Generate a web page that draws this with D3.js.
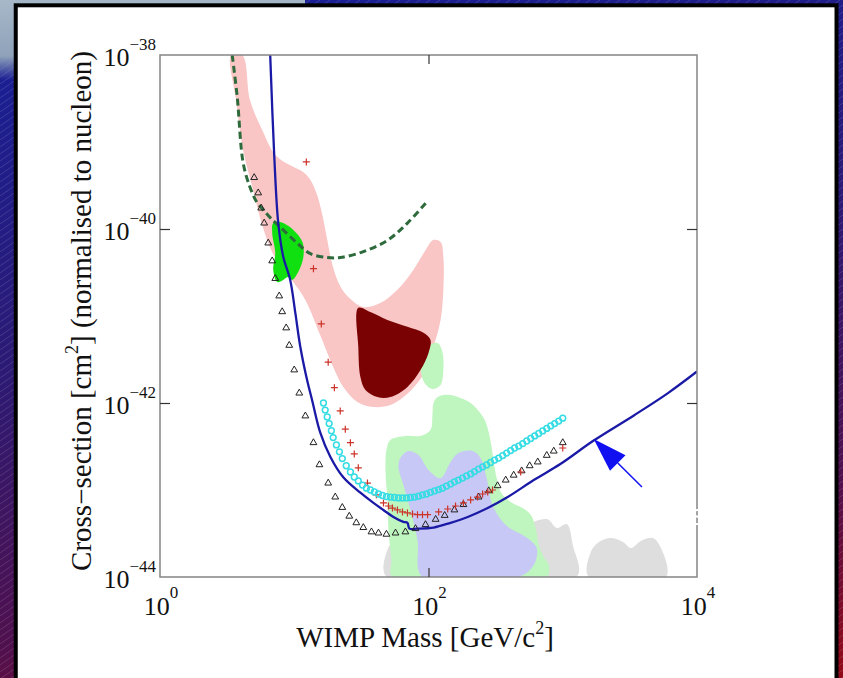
<!DOCTYPE html>
<html>
<head>
<meta charset="utf-8">
<script src="https://cdn.jsdelivr.net/npm/d3@7"></script>
<style>
  body { margin: 0; background: #000; }
  svg { display: block; }
</style>
</head>
<body>
<div id="chart"></div>
<script>
const [svgW, svgH] = [843, 678];
const [plotL, plotR, plotT, plotB] = [160, 697, 55, 577];
const serif = '"Liberation Serif", "DejaVu Serif", serif';

// axes
const xTicks = [1, 100, 10000];
const xTickExp = ["0", "2", "4"];
const yTicks = [1e-44, 1e-42, 1e-40, 1e-38];
const yTickExp = ["\u221244", "\u221242", "\u221240", "\u221238"];

// [mass GeV, cross-section cm2]
const limitLine = [
  [6.62, 1e-38], [7.1, 6.8e-40], [7.6, 1.17e-40], [8.28, 4.8e-41], [9.33, 2.6e-41],
  [10.2, 1.07e-41], [11.1, 4.4e-42], [12.5, 1.8e-42], [13.6, 1.07e-42], [15.6, 4.6e-43],
  [18.6, 2.4e-43], [23.2, 1.4e-43], [31.1, 9.3e-44], [38.9, 7.1e-44], [46.1, 5.9e-44],
  [54.8, 4.9e-44], [65.0, 4.3e-44], [69.7, 4.2e-44], [72.1, 3.6e-44], [82.8, 3.6e-44],
  [109, 3.7e-44], [146, 4.2e-44], [196, 4.9e-44], [276, 6.2e-44], [389, 8.3e-44],
  [608, 1.3e-43], [966, 2.0e-43], [1700, 3.7e-43], [3386, 7.2e-43], [6080, 1.3e-42],
  [10000, 2.3e-42]
];

const dashedLine = [
  [3.45, 1e-38], [3.76, 3.3e-39], [4.16, 5.8e-40], [4.69, 3.0e-40], [5.3, 2.0e-40],
  [5.87, 1.66e-40], [6.62, 1.35e-40], [7.87, 1.05e-40], [10.5, 6.9e-41], [13.2, 5.2e-41],
  [17.6, 4.7e-41], [22.0, 4.7e-41], [32.7, 5.5e-41], [49.4, 7.4e-41], [69.7, 1.17e-40],
  [98.4, 2.1e-40]
];

const triangles = [
  [5.03, 3.9e-40], [5.39, 2.6e-40], [5.67, 1.74e-40], [5.97, 1.17e-40], [6.4, 6.9e-41],
  [6.85, 4.3e-41], [7.22, 2.7e-41], [7.73, 1.7e-41], [8.13, 1.12e-41], [8.71, 7.3e-42],
  [9.18, 4.6e-42], [10.0, 2.4e-42], [10.9, 1.3e-42], [12.1, 7.1e-43], [13.9, 3.5e-43],
  [15.4, 1.95e-43], [17.9, 1.2e-43], [20.2, 8.3e-44], [22.8, 6.3e-44], [25.7, 5.0e-44],
  [29.0, 4.2e-44], [32.7, 3.7e-44], [37.6, 3.3e-44], [42.4, 3.2e-44], [48.6, 3.1e-44],
  [56.8, 3.2e-44], [67.3, 3.3e-44], [80, 3.6e-44], [95, 4.0e-44], [113, 4.6e-44],
  [132, 5.1e-44], [156, 5.9e-44], [182, 6.8e-44], [236, 8.3e-44], [281, 9.8e-44],
  [327, 1.12e-43], [376, 1.3e-43], [431, 1.48e-43], [494, 1.66e-43], [567, 1.9e-43],
  [651, 2.1e-43], [760, 2.5e-43], [857, 2.8e-43], [1000, 3.5e-43]
];

const crosses = [
  [12.3, 5.9e-40], [13.9, 3.5e-41], [15.9, 8.1e-42], [17.9, 2.95e-42], [19.9, 1.5e-42],
  [22.0, 8.1e-43], [24.0, 5.0e-43], [26.2, 3.5e-43], [28.0, 2.6e-43], [30.0, 1.8e-43],
  [35.1, 1.2e-43], [40.9, 8.8e-44], [46.2, 7.1e-44], [50.3, 6.55e-44], [53.9, 6.2e-44],
  [58.7, 5.9e-44], [64.0, 5.6e-44], [69.7, 5.45e-44], [76.0, 5.3e-44], [82.8, 5.2e-44],
  [90.2, 5.2e-44], [98.4, 5.2e-44], [119, 5.6e-44], [139, 6.05e-44], [159, 6.55e-44],
  [182, 7.1e-44], [206, 7.7e-44], [232, 8.3e-44], [253, 9.0e-44], [276, 9.5e-44],
  [300, 1.0e-43], [486, 1.61e-43], [1000, 3.04e-43]
];

const circleMass = [
  16.5, 17.0, 17.6, 18.2, 18.9, 19.5, 20.6, 21.7, 22.8, 24.4,
  26.2, 28.0, 30.0, 32.2, 34.5, 36.9, 39.5, 42.4, 45.4, 48.6,
  52.0, 55.7, 59.7, 64.0, 68.5, 73.4, 78.6, 84.2, 90.2, 96.6,
  103.5, 111, 119, 127, 136, 146, 156, 167, 179, 192,
  206, 220, 236, 253, 271, 290, 311, 333, 357, 382,
  409, 438, 470, 503, 539, 577, 618, 662, 709, 760,
  813, 871, 933, 1000
];
const circleSigma = [
  1.0e-42, 8.3e-43, 6.9e-43, 5.8e-43, 4.8e-43, 4.0e-43, 3.3e-43, 2.75e-43, 2.3e-43, 1.9e-43,
  1.61e-43, 1.41e-43, 1.27e-43, 1.14e-43, 1.05e-43, 1.0e-43, 9.5e-44, 9.0e-44, 8.65e-44, 8.4e-44,
  8.3e-44, 8.2e-44, 8.1e-44, 8.1e-44, 8.1e-44, 8.2e-44, 8.3e-44, 8.5e-44, 8.8e-44, 9.0e-44,
  9.4e-44, 9.75e-44, 1.01e-43, 1.05e-43, 1.11e-43, 1.17e-43, 1.24e-43, 1.30e-43, 1.37e-43, 1.45e-43,
  1.53e-43, 1.63e-43, 1.74e-43, 1.84e-43, 1.94e-43, 2.07e-43, 2.21e-43, 2.33e-43, 2.49e-43, 2.66e-43,
  2.84e-43, 3.04e-43, 3.2e-43, 3.42e-43, 3.66e-43, 3.91e-43, 4.18e-43, 4.46e-43, 4.77e-43, 5.1e-43,
  5.45e-43, 5.8e-43, 6.2e-43, 6.7e-43
];

// filled regions
const pinkRegion = [
  [3.39, 1e-38], [4.1, 1e-38], [4.69, 3.0e-39], [5.77, 1.37e-39], [7.22, 7.1e-40],
  [9.33, 5.4e-40], [11.7, 4.5e-40], [13.2, 3.66e-40], [14.8, 2.46e-40], [16.2, 1.45e-40],
  [17.6, 7.5e-41], [19.2, 3.9e-41], [22.0, 2.2e-41], [26.2, 1.57e-41], [32.7, 1.27e-41],
  [43.8, 1.41e-41], [58.7, 2.0e-41], [77.3, 3.4e-41], [95.0, 5.7e-41], [109, 7.5e-41],
  [123, 7.1e-41], [129, 4.8e-41], [129, 2.0e-41], [123, 9.0e-42], [109, 4.4e-42],
  [98.4, 2.6e-42], [82.8, 1.70e-42], [65.1, 1.17e-42], [52.0, 9.5e-43], [38.9, 9.0e-43],
  [29.5, 1.03e-42], [23.2, 1.53e-42], [19.5, 2.6e-42], [15.6, 6.05e-42], [12.1, 1.53e-41],
  [9.84, 2.46e-41], [8.13, 3.6e-41], [6.85, 5.4e-41], [5.77, 1.11e-40], [4.94, 2.8e-40],
  [4.16, 8.1e-40], [3.69, 3.0e-39]
];
const maroonRegion = [
  [30.0, 1.24e-41], [36.9, 1.11e-41], [49.4, 9.0e-42], [69.7, 7.5e-42], [91.8, 6.4e-42],
  [103.5, 5.3e-42], [100, 3.76e-42], [87.1, 2.39e-42], [69.7, 1.53e-42], [52.0, 1.17e-42],
  [41.6, 1.17e-42], [33.9, 1.41e-42], [31.1, 1.99e-42], [30.0, 4.4e-42]
];
const greenRegion = [
  [6.97, 1.17e-40], [7.87, 1.20e-40], [9.84, 9.75e-41], [11.5, 7.1e-41], [11.7, 4.8e-41],
  [10.7, 3.2e-41], [9.66, 2.6e-41], [9.02, 2.8e-41], [8.28, 2.6e-41], [7.47, 2.46e-41],
  [6.97, 3.4e-41], [7.22, 5.3e-41], [6.85, 9.0e-41]
];
const paleGreenRegion = [
  [117, 1.17e-42], [139, 1.24e-42], [173, 1.14e-42], [206, 1.0e-42], [236, 8.1e-43],
  [262, 6.4e-43], [281, 4.6e-43], [295, 3.12e-43], [306, 2.1e-43], [322, 1.37e-43],
  [345, 9.5e-44], [409, 7.3e-44], [503, 6.2e-44], [577, 5.2e-44], [629, 3.66e-44],
  [662, 2.33e-44], [721, 1.70e-44], [787, 1.37e-44], [760, 1e-44], [53.9, 1e-44],
  [52.9, 1.57e-44], [50.3, 3.47e-44], [49.4, 7.7e-44], [47.8, 1.70e-43], [48.6, 2.88e-43],
  [52.0, 3.76e-43], [67.4, 4.18e-43], [87.1, 4.18e-43], [103.5, 4.9e-43], [107, 7.3e-43],
  [109, 1.0e-42]
];
const paleGreenBlob = [
  [100, 4.6e-42], [117, 4.9e-42], [127, 3.86e-42], [129, 2.39e-42], [123, 1.61e-42],
  [107, 1.45e-42], [93.4, 1.70e-42], [87.1, 2.52e-42], [90.2, 3.86e-42]
];
const lavenderRegion = [
  [61.8, 2.33e-43], [70.9, 2.8e-43], [84.2, 2.52e-43], [100, 1.70e-43], [123, 1.37e-43],
  [146, 2.1e-43], [167, 2.66e-43], [213, 2.8e-43], [244, 2.33e-43], [271, 1.37e-43],
  [300, 6.7e-44], [376, 3.96e-44], [530, 2.88e-44], [640, 2.15e-44], [608, 1.37e-44],
  [470, 1e-44], [90.2, 1e-44], [82.8, 2.66e-44], [73.4, 5.9e-44], [65.1, 1.14e-43],
  [59.7, 1.84e-43]
];
const greyRegionA = [
  [48.6, 1e-44], [49.4, 2.04e-44], [54.8, 2.52e-44], [87.1, 2.66e-44], [244, 3.3e-44],
  [327, 4.3e-44], [376, 5.3e-44], [446, 4.9e-44], [530, 3.76e-44], [629, 4.4e-44],
  [773, 4.6e-44], [902, 3.66e-44], [1072, 4.06e-44], [1188, 2.33e-44], [1272, 1e-44]
];
const greyRegionB = [
  [1563, 1e-44], [1618, 1.94e-44], [1857, 2.52e-44], [2281, 2.8e-44], [2805, 2.52e-44],
  [3214, 2.15e-44], [3819, 2.6e-44], [4696, 2.8e-44], [5387, 2.15e-44], [5870, 1e-44]
];

const arrowFrom = [3890, 1.08e-43];
const arrowTo = [1700, 3.86e-43];

// ---------- svg ----------
const svg = d3.select("#chart").append("svg")
  .attr("width", svgW).attr("height", svgH);
const defs = svg.append("defs");

const grad = defs.append("linearGradient").attr("id", "bg")
  .attr("gradientUnits", "userSpaceOnUse")
  .attr("x1", 0).attr("y1", 0).attr("x2", 160).attr("y2", 800);
[["0", "#16209a"], ["0.45", "#2c1a74"], ["0.78", "#50104e"], ["1", "#900a1a"]]
  .forEach(s => grad.append("stop").attr("offset", s[0]).attr("stop-color", s[1]));

const lightGrad = defs.append("linearGradient").attr("id", "light")
  .attr("x1", 0).attr("y1", 0).attr("x2", 0).attr("y2", 1);
lightGrad.append("stop").attr("offset", "0").attr("stop-color", "#a7b8c8");
lightGrad.append("stop").attr("offset", "0.7").attr("stop-color", "#8fa2ba");
lightGrad.append("stop").attr("offset", "1").attr("stop-color", "#8fa2ba").attr("stop-opacity", 0);

const pat = defs.append("pattern").attr("id", "stripes")
  .attr("patternUnits", "userSpaceOnUse").attr("width", 10).attr("height", 7);
pat.append("path").attr("d", "M0,7L10,0")
  .attr("stroke", "rgba(255,255,255,0.22)").attr("stroke-width", 0.6);

svg.append("rect").attr("width", svgW).attr("height", svgH).attr("fill", "url(#bg)");
svg.append("rect").attr("width", svgW).attr("height", svgH).attr("fill", "url(#stripes)");
svg.append("rect").attr("x", 0).attr("y", 0).attr("width", 305).attr("height", 12).attr("fill", "#a3b5c6");
svg.append("rect").attr("x", 0).attr("y", 0).attr("width", 16).attr("height", 80).attr("fill", "url(#light)");

// white panel
svg.append("rect")
  .attr("x", 15.75).attr("y", 5.3).attr("width", 820.75).attr("height", 700)
  .attr("fill", "#fff").attr("stroke", "#000").attr("stroke-width", 4);

const x = d3.scaleLog().domain([1, 1e4]).range([plotL, plotR]);
const y = d3.scaleLog().domain([1e-44, 1e-38]).range([plotB, plotT]);

defs.append("clipPath").attr("id", "plotclip").append("rect")
  .attr("x", plotL).attr("y", plotT).attr("width", plotR - plotL).attr("height", plotB - plotT);

const plot = svg.append("g").attr("clip-path", "url(#plotclip)");
const area = d3.line().x(d => x(d[0])).y(d => y(d[1])).curve(d3.curveCatmullRomClosed.alpha(0.5));

function region(data, color) {
  plot.append("path").datum(data).attr("d", area).attr("fill", color).attr("stroke", "none");
}
region(greyRegionA, "#dedede");
region(greyRegionB, "#dedede");
region(paleGreenRegion, "#bff5bf");
region(lavenderRegion, "#c8c8f6");
region(pinkRegion, "#f9c5c5");
region(paleGreenBlob, "#bff5bf");
region(maroonRegion, "#7a0202");
region(greenRegion, "#10e010");

const lineV = d3.line().x(d => x(d[0])).y(d => y(d[1])).curve(d3.curveCatmullRom.alpha(0.5));

plot.append("path").datum(dashedLine).attr("d", lineV)
  .attr("fill", "none").attr("stroke", "#2e6b3c").attr("stroke-width", 3)
  .attr("stroke-dasharray", "7,4");

plot.append("path").datum(limitLine).attr("d", lineV)
  .attr("fill", "none").attr("stroke", "#1a1aa6").attr("stroke-width", 2.3);

// markers
const tri = d3.symbol().type(d3.symbolTriangle).size(20);
plot.append("g").selectAll("path").data(triangles).join("path")
  .attr("transform", d => `translate(${x(d[0])},${y(d[1])})`)
  .attr("d", tri).attr("fill", "none").attr("stroke", "#222").attr("stroke-width", 1);

plot.append("g").selectAll("path").data(crosses).join("path")
  .attr("transform", d => `translate(${x(d[0])},${y(d[1])})`)
  .attr("d", "M-3.5,0H3.5M0,-3.5V3.5")
  .attr("stroke", "#cc3328").attr("stroke-width", 1.2);

plot.append("g").selectAll("circle").data(d3.zip(circleMass, circleSigma)).join("circle")
  .attr("cx", d => x(d[0])).attr("cy", d => y(d[1])).attr("r", 2.9)
  .attr("fill", "none").attr("stroke", "#34dce4").attr("stroke-width", 1.5);

// arrow
const [ax0, ay0, ax1, ay1] = [x(arrowFrom[0]), y(arrowFrom[1]), x(arrowTo[0]), y(arrowTo[1])];
const ang = Math.atan2(ay1 - ay0, ax1 - ax0);
const headLen = 34, headHalf = 11;
const bx = ax1 - headLen * Math.cos(ang), by = ay1 - headLen * Math.sin(ang);
svg.append("line").attr("x1", ax0).attr("y1", ay0).attr("x2", bx).attr("y2", by)
  .attr("stroke", "#1010f0").attr("stroke-width", 1.5);
svg.append("path")
  .attr("d", `M${ax1},${ay1}L${bx - headHalf * Math.sin(ang)},${by + headHalf * Math.cos(ang)}` +
             `L${bx + headHalf * Math.sin(ang)},${by - headHalf * Math.cos(ang)}Z`)
  .attr("fill", "#1010f0");

// frame + ticks
svg.append("rect").attr("x", plotL).attr("y", plotT)
  .attr("width", plotR - plotL).attr("height", plotB - plotT)
  .attr("fill", "none").attr("stroke", "#858585").attr("stroke-width", 1.5);

const tickStyle = g => {
  g.select(".domain").remove();
  g.selectAll(".tick line").attr("stroke", "#333").attr("stroke-width", 1.2);
  g.selectAll(".tick text").remove();
};
const innerX = xTicks.slice(1, -1), innerY = yTicks.slice(1, -1);
svg.append("g").attr("transform", `translate(0,${plotB})`)
  .call(d3.axisBottom(x).tickValues(innerX).tickSize(-9)).call(tickStyle);
svg.append("g").attr("transform", `translate(0,${plotT})`)
  .call(d3.axisTop(x).tickValues(innerX).tickSize(-9)).call(tickStyle);
svg.append("g").attr("transform", `translate(${plotL},0)`)
  .call(d3.axisLeft(y).tickValues(innerY).tickSize(-10)).call(tickStyle);
svg.append("g").attr("transform", `translate(${plotR},0)`)
  .call(d3.axisRight(y).tickValues(innerY).tickSize(-10)).call(tickStyle);

// tick labels
const xl = svg.append("g").selectAll("text").data(xTicks).join("text")
  .attr("x", d => x(d) + 1).attr("y", 615)
  .attr("text-anchor", "middle").attr("font-family", serif).attr("font-size", 26).attr("fill", "#111");
xl.append("tspan").text("10");
xl.append("tspan").attr("dy", -17).attr("font-size", 17).text((d, i) => xTickExp[i]);

const yl = svg.append("g").selectAll("text").data(yTicks).join("text")
  .attr("x", 156).attr("y", d => y(d) + 11)
  .attr("text-anchor", "end").attr("font-family", serif).attr("font-size", 26).attr("fill", "#111");
yl.append("tspan").text("10");
yl.append("tspan").attr("dy", -16).attr("font-size", 17).text((d, i) => yTickExp[i]);

// axis titles
const xt = svg.append("text").attr("x", 425).attr("y", 647).attr("text-anchor", "middle")
  .attr("font-family", serif).attr("font-size", 29).attr("fill", "#111");
xt.append("tspan").text("WIMP Mass [GeV/c");
xt.append("tspan").attr("dy", -13).attr("font-size", 18).text("2");
xt.append("tspan").attr("dy", 13).text("]");

const yt = svg.append("text").attr("transform", "translate(91,311) rotate(-90)")
  .attr("text-anchor", "middle").attr("font-family", serif).attr("font-size", 29).attr("fill", "#111");
yt.append("tspan").text("Cross\u2212section [cm");
yt.append("tspan").attr("dy", -13).attr("font-size", 18).text("2");
yt.append("tspan").attr("dy", 13).text("] (normalised to nucleon)");

// stray white glyph over the right border
svg.append("text").attr("x", 691).attr("y", 525).attr("font-family", '"DejaVu Sans", sans-serif')
  .attr("font-size", 22).attr("fill", "#fff").text("S");
</script>
</body>
</html>
